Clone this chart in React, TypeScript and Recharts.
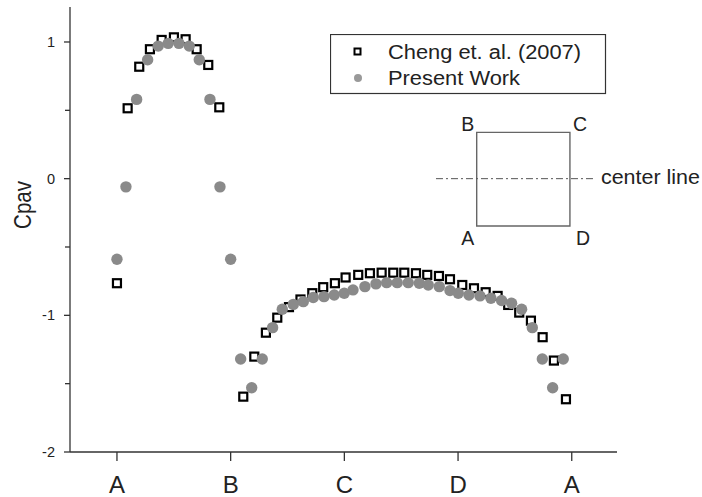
import React from 'react';
import {
  ScatterChart,
  Scatter,
  XAxis,
  YAxis,
  Legend,
  ReferenceArea,
  ReferenceLine,
  ReferenceDot,
} from 'recharts';

const xTickValues = [0, 1, 2, 3, 4];
const xTickLabels = ['A', 'B', 'C', 'D', 'A'];
const yTickValues = [-2, -1.5, -1, -0.5, 0, 0.5, 1];

const chengX = [
  0, 0.094, 0.196, 0.29, 0.393, 0.501, 0.604, 0.701, 0.803, 0.9,
  1.111, 1.208, 1.31, 1.41, 1.513, 1.614, 1.718, 1.814, 1.917, 2.011,
  2.122, 2.225, 2.328, 2.43, 2.527, 2.63, 2.729, 2.832, 2.929, 3.037,
  3.14, 3.243, 3.348, 3.441, 3.538, 3.641, 3.744, 3.843, 3.949,
];
const chengY = [
  -0.765, 0.515, 0.819, 0.947, 1.015, 1.034, 1.02, 0.947, 0.832, 0.522,
  -1.595, -1.302, -1.127, -1.017, -0.94, -0.884, -0.838, -0.794, -0.765, -0.723,
  -0.704, -0.692, -0.688, -0.688, -0.688, -0.692, -0.704, -0.712, -0.736, -0.778,
  -0.802, -0.831, -0.858, -0.924, -0.98, -1.039, -1.16, -1.331, -1.614,
];

const presentX = [
  0, 0.079, 0.173, 0.27, 0.363, 0.451, 0.545, 0.636, 0.724, 0.818, 0.906, 1.0,
  1.088, 1.185, 1.278, 1.369, 1.454, 1.551, 1.639, 1.726, 1.821, 1.911, 1.999,
  2.076, 2.181, 2.278, 2.372, 2.465, 2.562, 2.659, 2.738, 2.835, 2.929, 3.002,
  3.096, 3.193, 3.289, 3.383, 3.471, 3.559, 3.653, 3.741, 3.832, 3.925,
];
const presentY = [
  -0.59, -0.06, 0.58, 0.87, 0.97, 0.99, 0.99, 0.97, 0.87, 0.58, -0.06, -0.59,
  -1.32, -1.53, -1.32, -1.09, -0.955, -0.92, -0.9, -0.87, -0.863, -0.851, -0.838,
  -0.814, -0.79, -0.77, -0.761, -0.761, -0.761, -0.765, -0.778, -0.79, -0.819, -0.838,
  -0.851, -0.858, -0.875, -0.892, -0.912, -0.955, -1.09, -1.32, -1.53, -1.32,
];

// inset sketch of the square cylinder (in data units)
const insetX = [3.164, 3.984];
const insetY = [-0.346, 0.339];
const centerLineX = [2.806, 4.204];

const seriesNames = ['Cheng et. al. (2007)', 'Present Work'];

const chengData = chengX.map((x, i) => ({ x, y: chengY[i] }));
const presentData = presentX.map((x, i) => ({ x, y: presentY[i] }));

const FONT = '"Liberation Sans", Arial, Helvetica, sans-serif';
const AXIS = '#333';

const SquareShape = (props: any) => {
  const { cx, cy } = props;
  if (cx == null || cy == null) return null;
  return <rect x={cx - 4} y={cy - 4} width={8} height={8} fill="#fff" stroke="#000" strokeWidth={2.2} />;
};

const CircleShape = (props: any) => {
  const { cx, cy } = props;
  if (cx == null || cy == null) return null;
  return <circle cx={cx} cy={cy} r={5.7} fill="#8a8a8a" />;
};

const YTick = (props: any) => {
  const { x, y, payload } = props;
  const v = payload.value;
  const major = Number.isInteger(v);
  return (
    <g>
      <line x1={x - (major ? 6 : 5)} x2={x} y1={y} y2={y} stroke={AXIS} strokeWidth={1.3} />
      {major && (
        <text x={x - 15} y={y + 5} textAnchor="end" fontSize={14.5} fontFamily={FONT} fill="#222">
          {String(v)}
        </text>
      )}
    </g>
  );
};

const XTick = (props: any) => {
  const { x, y, payload } = props;
  const idx = xTickValues.indexOf(payload.value);
  return (
    <g>
      <line x1={x} x2={x} y1={y} y2={y + 9} stroke={AXIS} strokeWidth={1.3} />
      <text x={x} y={y + 41} textAnchor="middle" fontSize={24} fontFamily={FONT} fill="#222">
        {xTickLabels[idx]}
      </text>
    </g>
  );
};

const LegendBox = () => (
  <svg width={277} height={61} style={{ display: 'block' }}>
    <rect x={0.5} y={0.5} width={275} height={59} fill="#fff" stroke="#333" strokeWidth={1.2} />
    <rect x={24.5} y={14.5} width={6} height={6} fill="#fff" stroke="#000" strokeWidth={2} />
    <text x={58} y={24.5} fontSize={19.5} fontFamily={FONT} fill="#222" textLength={193} lengthAdjust="spacingAndGlyphs">
      {seriesNames[0]}
    </text>
    <circle cx={28} cy={44} r={4} fill="#999" />
    <text x={58} y={51} fontSize={19.5} fontFamily={FONT} fill="#222" textLength={132} lengthAdjust="spacingAndGlyphs">
      {seriesNames[1]}
    </text>
  </svg>
);

const cornerLabel = (txt: string, dx: number, dy: number) => (p: any) => {
  const vb = p.viewBox || {};
  const cx = (vb.x ?? 0) + (vb.width ?? 0) / 2;
  const cy = (vb.y ?? 0) + (vb.height ?? 0) / 2;
  return (
    <text x={cx + dx} y={cy + dy} textAnchor="middle" fontSize={19.5} fontFamily={FONT} fill="#222">
      {txt}
    </text>
  );
};

const centerLineLabel = (p: any) => {
  const vb = p.viewBox || {};
  const cx = (vb.x ?? 0) + (vb.width ?? 0) / 2;
  const cy = (vb.y ?? 0) + (vb.height ?? 0) / 2;
  return (
    <text x={cx + 6} y={cy + 5} fontSize={19.5} fontFamily={FONT} fill="#222" textLength={99} lengthAdjust="spacingAndGlyphs">
      center line
    </text>
  );
};

const CpavLabel = () => (
  <text
    x={0}
    y={0}
    transform="translate(31 205) scale(1.15 1) rotate(-90)"
    textAnchor="middle"
    fontSize={20.5}
    fontFamily={FONT}
    fill="#222"
  >
    Cpav
  </text>
);

export default function App() {
  return (
    <div style={{ position: 'absolute', left: 0, top: 0, width: 702, height: 497, background: '#fff' }}>
      <ScatterChart width={702} height={497} margin={{ top: 7, right: 85, bottom: 0, left: 0 }}>
        <XAxis
          type="number"
          dataKey="x"
          domain={[-0.413, 4.398]}
          ticks={xTickValues}
          allowDataOverflow
          interval={0}
          tickSize={0}
          tickMargin={0}
          tickLine={false}
          height={45}
          axisLine={{ stroke: AXIS, strokeWidth: 1.3 }}
          tick={<XTick />}
        />
        <YAxis
          type="number"
          dataKey="y"
          domain={[-2, 1.256]}
          ticks={yTickValues}
          allowDataOverflow
          interval={0}
          tickSize={0}
          tickMargin={0}
          tickLine={false}
          width={70}
          axisLine={{ stroke: AXIS, strokeWidth: 1.3 }}
          tick={<YTick />}
          label={{ content: () => <CpavLabel /> }}
        />
        <ReferenceLine
          segment={[{ x: centerLineX[0], y: 0 }, { x: centerLineX[1], y: 0 }]}
          stroke="#555"
          strokeWidth={1}
          strokeDasharray="7 3 2 3"
          label={{ content: () => null }}
        />
        <ReferenceDot x={centerLineX[1]} y={0} r={0} fill="none" stroke="none" label={{ content: centerLineLabel }} />
        <ReferenceArea
          x1={insetX[0]}
          x2={insetX[1]}
          y1={insetY[0]}
          y2={insetY[1]}
          fill="#fff"
          fillOpacity={0}
          stroke="#666"
          strokeWidth={1.4}
          strokeOpacity={1}
        />
        <ReferenceDot x={insetX[0]} y={insetY[1]} r={0} fill="none" stroke="none" label={{ content: cornerLabel('B', -9, -1.6) }} />
        <ReferenceDot x={insetX[1]} y={insetY[1]} r={0} fill="none" stroke="none" label={{ content: cornerLabel('C', 10, -1.6) }} />
        <ReferenceDot x={insetX[0]} y={insetY[0]} r={0} fill="none" stroke="none" label={{ content: cornerLabel('A', -9, 19) }} />
        <ReferenceDot x={insetX[1]} y={insetY[0]} r={0} fill="none" stroke="none" label={{ content: cornerLabel('D', 13, 19) }} />
        <Scatter name={seriesNames[0]} data={chengData} shape={<SquareShape />} isAnimationActive={false} />
        <Scatter name={seriesNames[1]} data={presentData} shape={<CircleShape />} isAnimationActive={false} />
        <Legend
          layout="vertical"
          align="center"
          verticalAlign="middle"
          wrapperStyle={{ left: 330, top: 34, width: 277, height: 61 }}
          content={() => <LegendBox />}
        />
      </ScatterChart>
    </div>
  );
}
